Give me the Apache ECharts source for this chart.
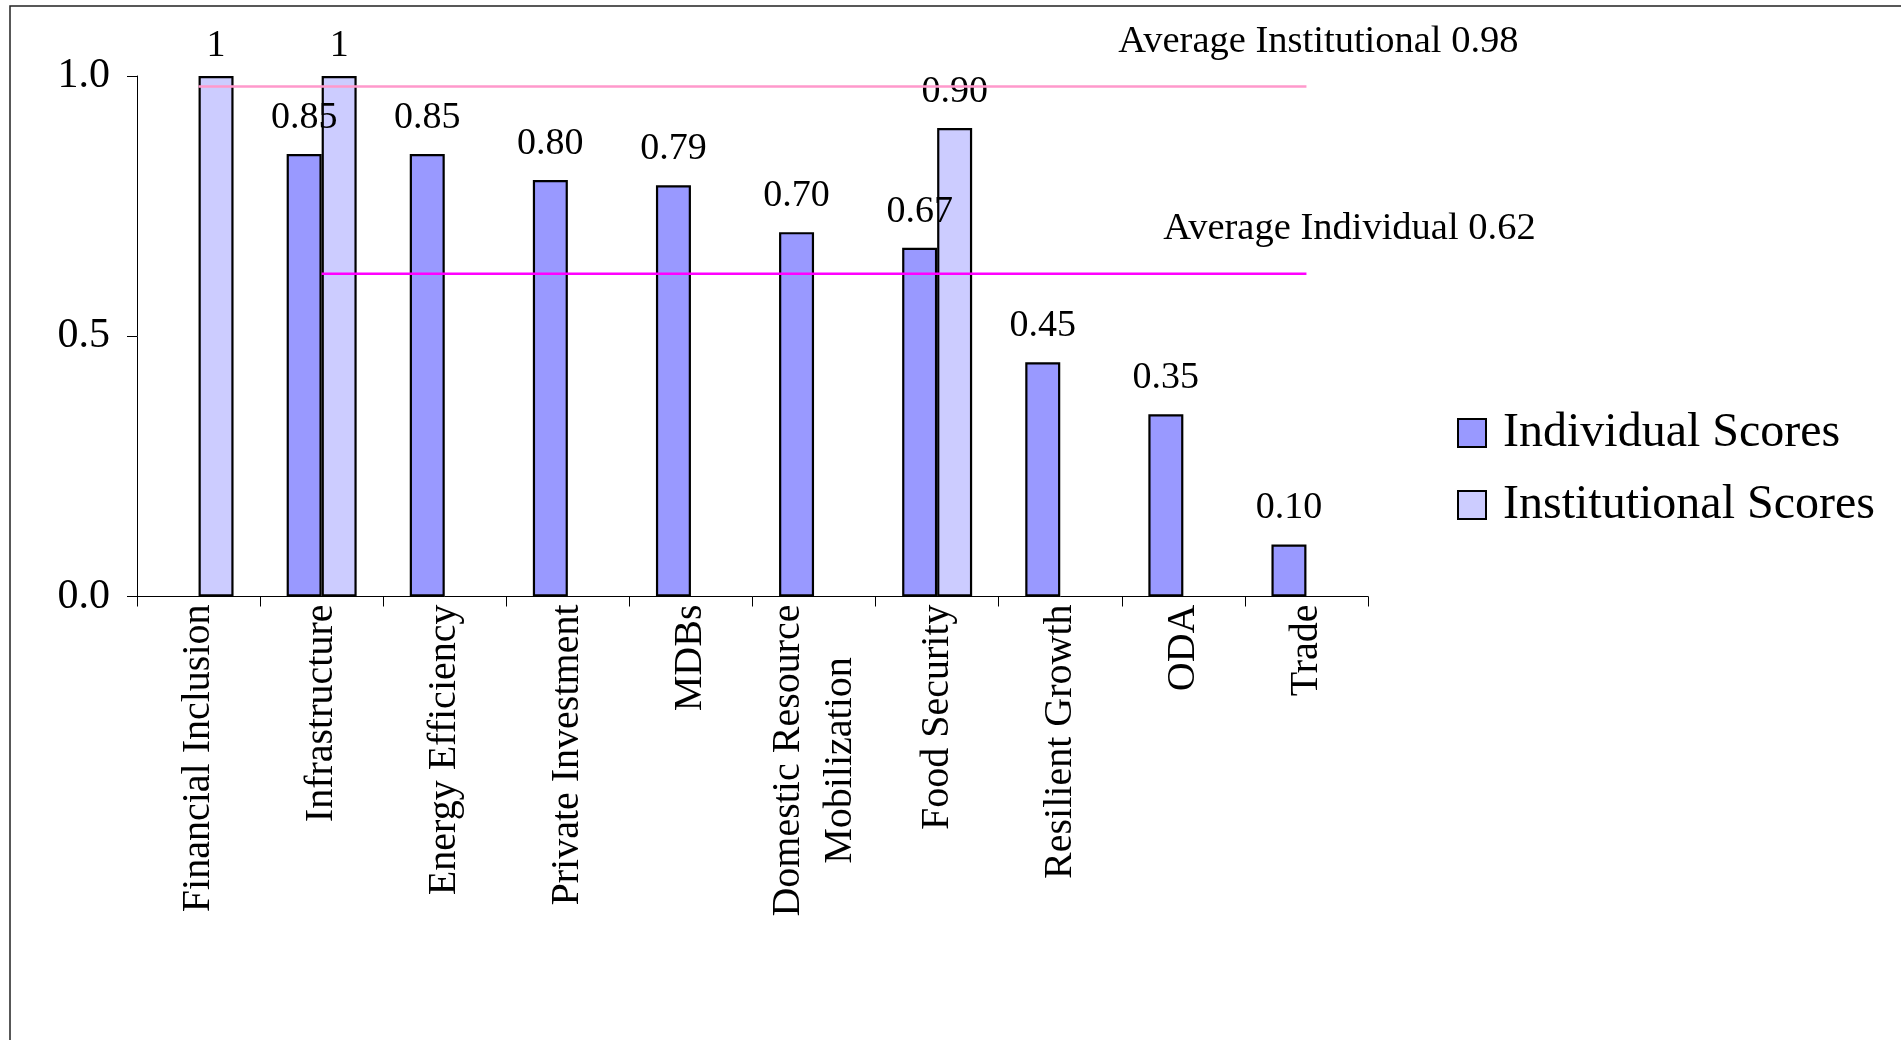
<!DOCTYPE html>
<html>
<head>
<meta charset="utf-8">
<script src="https://cdn.jsdelivr.net/npm/echarts@6/dist/echarts.min.js"></script>
<style>
  html, body { margin: 0; padding: 0; background: #ffffff; }
  #chart { width: 1901px; height: 1040px; }
</style>
</head>
<body>
<div id="chart"></div>
<script>
// Scores per area
const categories = [
  'Financial Inclusion', 'Infrastructure', 'Energy Efficiency', 'Private Investment',
  'MDBs', 'Domestic Resource\nMobilization', 'Food Security', 'Resilient Growth', 'ODA', 'Trade'
];
const individualScores    = [null, 0.85, 0.85, 0.80, 0.79, 0.70, 0.67, 0.45, 0.35, 0.10];
const institutionalScores = [1, 1, null, null, null, null, 0.90, null, null, null];
const averageIndividual    = 0.62;
const averageInstitutional = 0.98;
const yTicks = [0, 0.5, 1.0];

const SERIF = "'Liberation Serif', 'Times New Roman', serif";
const last = categories.length - 1;

// Average lines: institutional spans every area, individual starts at the first scored area.
// Only the final point carries a caption.
const firstIndividual = individualScores.findIndex(v => v != null);
function avgLine(avg, startIdx, caption, dx) {
  return categories.map((c, i) => {
    if (i < startIdx) return '-';
    if (i === last) {
      return {
        value: avg,
        label: {
          show: true, position: 'top', distance: 25, offset: [dx, 0],
          formatter: caption + ' ' + avg.toFixed(2),
          fontFamily: SERIF, fontSize: 38.5, color: '#000'
        }
      };
    }
    return avg;
  });
}

const barLabel = {
  show: true, position: 'top', distance: 17,
  fontFamily: SERIF, fontSize: 38, color: '#000'
};

const chart = echarts.init(document.getElementById('chart'), null, { renderer: 'canvas' });
chart.setOption({
  animation: false,
  backgroundColor: '#ffffff',
  textStyle: { fontFamily: SERIF, color: '#000' },
  graphic: [{
    type: 'rect', silent: true, z: -1,
    shape: { x: 10, y: 6, width: 2400, height: 2400 },
    style: { fill: null, stroke: '#222', lineWidth: 1.5 }
  }],
  grid: { left: 137, top: 76, right: 533, bottom: 443.5, containLabel: false },
  legend: {
    orient: 'vertical', left: 1452, top: 404,
    icon: 'rect',
    itemWidth: 28, itemHeight: 28, itemGap: 24,
    data: ['Individual Scores', 'Institutional Scores'],
    textStyle: { fontFamily: SERIF, fontSize: 48, color: '#000', padding: [0, 0, 0, 12] },
    itemStyle: { borderColor: '#000', borderWidth: 2 }
  },
  xAxis: {
    type: 'category',
    data: categories,
    axisLine: { lineStyle: { color: '#000', width: 1 } },
    axisTick: { show: true, length: 10, lineStyle: { color: '#000' } },
    axisLabel: {
      rotate: 90, margin: 8, interval: 0,
      fontFamily: SERIF, fontSize: 40, color: '#000',
      formatter: v => v.includes('\n') ? v.split('\n').map(s => '{c|' + s + '}').join('\n') : v,
      rich: { c: { width: 312, align: 'center', fontFamily: SERIF, fontSize: 40, lineHeight: 52, color: '#000' } }
    },
    splitLine: { show: false }
  },
  yAxis: {
    type: 'value', min: 0, max: 1, interval: 0.5,
    axisLine: { show: true, lineStyle: { color: '#000', width: 1 } },
    axisTick: { show: true, length: 10, lineStyle: { color: '#000' } },
    axisLabel: {
      margin: 27, fontFamily: SERIF, fontSize: 42, color: '#000',
      formatter: v => yTicks.includes(v) ? v.toFixed(1) : ''
    },
    splitLine: { show: false }
  },
  series: [
    {
      name: 'Individual Scores', type: 'bar',
      barWidth: 35, barGap: '0%',
      data: individualScores.map(v => v == null ? '-' : v),
      itemStyle: { color: '#9999FF', borderColor: '#000', borderWidth: 2.2 },
      label: Object.assign({}, barLabel, { formatter: p => Number(p.value).toFixed(2) }),
      z: 2
    },
    {
      name: 'Institutional Scores', type: 'bar',
      barWidth: 35, barGap: '0%',
      data: institutionalScores.map(v => v == null ? '-' : (v === 1 ? { value: v, label: { distance: 11 } } : v)),
      itemStyle: { color: '#CCCCFF', borderColor: '#000', borderWidth: 2.2 },
      label: Object.assign({}, barLabel, {
        formatter: p => Number.isInteger(p.value) ? String(p.value) : Number(p.value).toFixed(2)
      }),
      z: 2
    },
    {
      name: 'Average Institutional', type: 'line',
      data: avgLine(averageInstitutional, 0, 'Average Institutional', 12),
      symbol: 'circle', symbolSize: 0, showSymbol: true,
      lineStyle: { color: '#FF99CC', width: 2.5 },
      itemStyle: { color: '#FF99CC' },
      z: 5
    },
    {
      name: 'Average Individual', type: 'line',
      data: avgLine(averageIndividual, firstIndividual, 'Average Individual', 43),
      symbol: 'circle', symbolSize: 0, showSymbol: true,
      lineStyle: { color: '#FF00FF', width: 2.5 },
      itemStyle: { color: '#FF00FF' },
      z: 5
    }
  ]
});
</script>
</body>
</html>
